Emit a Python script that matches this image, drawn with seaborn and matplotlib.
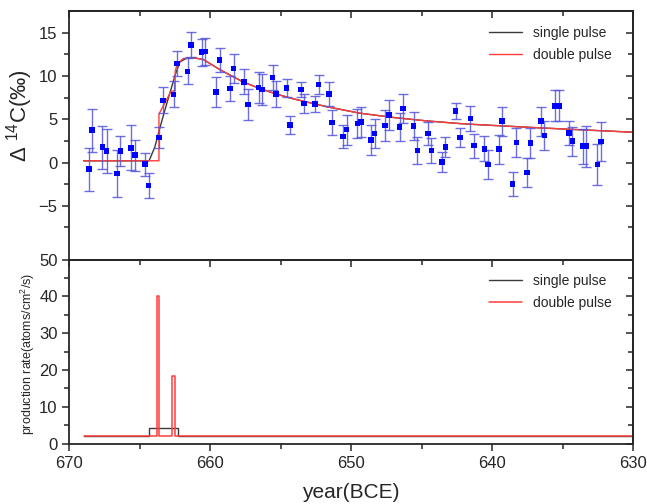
import matplotlib
matplotlib.use('Agg')
import matplotlib.pyplot as plt
import seaborn as sns
from matplotlib.ticker import MultipleLocator, FixedLocator

# measured D14C (per mil) with 1-sigma errors
years = [668.6, 668.4, 667.66, 667.37, 666.62, 666.38, 665.65, 665.36, 664.63, 664.39,
         663.64, 663.37, 662.61, 662.38, 661.62, 661.36, 660.62, 660.37, 659.61, 659.35,
         658.62, 658.35, 657.6, 657.34, 656.58, 656.34, 655.58, 655.33, 654.59, 654.33,
         653.57, 653.34, 652.58, 652.32, 651.58, 651.35, 650.59, 650.33, 649.57, 649.31,
         648.58, 648.34, 647.59, 647.32, 646.56, 646.31, 645.57, 645.31, 644.57, 644.32,
         643.56, 643.32, 642.59, 642.3, 641.55, 641.3, 640.55, 640.29, 639.53, 639.3,
         638.54, 638.28, 637.54, 637.29, 636.55, 636.29, 635.53, 635.27, 634.56, 634.3,
         633.57, 633.31, 632.53, 632.27]
d14c = [-0.77, 3.73, 1.77, 1.34, -1.27, 1.34, 1.69, 0.84, -0.2, -2.66,
        2.89, 7.17, 7.86, 11.44, 10.52, 13.6, 12.75, 12.83, 8.13, 11.86,
        8.55, 10.87, 9.32, 6.7, 8.67, 8.44, 9.82, 7.9, 8.59, 4.35,
        8.44, 6.82, 6.78, 9.01, 7.93, 4.62, 3.0, 3.8, 4.5, 4.66,
        2.61, 3.35, 4.28, 5.47, 4.12, 6.24, 4.2, 1.39, 3.35, 1.39,
        0.03, 1.77, 5.97, 2.89, 5.08, 1.96, 1.58, -0.23, 1.54, 4.77,
        -2.51, 2.31, -1.16, 2.27, 4.77, 3.12, 6.54, 6.54, 3.39, 2.46,
        1.88, 1.88, -0.23, 2.43]
d14c_err = [2.5, 2.5, 2.5, 2.5, 2.7, 1.7, 2.6, 1.8, 1.3, 1.45,
            1.25, 1.5, 1.5, 1.47, 1.5, 1.45, 1.56, 1.6, 1.75, 1.35,
            1.45, 1.7, 1.43, 1.77, 1.8, 1.8, 1.39, 1.46, 1.08, 1.08,
            0.83, 1.06, 0.89, 1.12, 1.4, 1.43, 1.35, 1.73, 1.7, 1.77,
            1.7, 1.68, 1.8, 1.73, 1.64, 1.68, 1.64, 1.6, 1.35, 1.4,
            1.18, 1.12, 0.9, 1.12, 1.43, 1.39, 1.45, 1.71, 1.68, 1.66,
            1.39, 1.68, 1.68, 1.7, 1.66, 1.71, 1.79, 1.79, 1.39, 1.7,
            2.04, 2.35, 2.4, 2.29]

# model curves (rise part differs, decay shared)
single_rise_x = [669.0, 664.35, 663.94, 663.6, 663.23, 662.88, 662.5, 662.17, 661.7]
single_rise_y = [0.2, 0.2, 1.8, 3.9, 6.05, 8.0, 10.1, 11.6, 12.05]
double_rise_x = [669.0, 663.65, 663.65, 662.8, 662.5, 662.5, 662.36, 661.93]
double_rise_y = [0.2, 0.2, 5.6, 8.2, 8.3, 10.5, 11.4, 12.0]
tail_x = [661.2, 660.5, 659.3, 657.67, 656.5, 655.3, 654.1, 651.75, 649.4, 647.0,
          644.6, 642.3, 641.3, 636.6, 630.0]
tail_y = [12.1, 11.9, 10.7, 9.3, 8.55, 7.9, 7.35, 6.45, 5.7, 5.2,
          4.8, 4.5, 4.4, 4.0, 3.5]

# production rate
prod_single_x = [669.0, 664.37, 664.37, 662.3, 662.3, 630.0]
prod_single_y = [2.0, 2.0, 4.2, 4.2, 2.0, 2.0]
prod_double_x = [669.0, 663.82, 663.82, 663.64, 663.64, 662.69, 662.69, 662.5, 662.5, 630.0]
prod_double_y = [2.0, 2.0, 40.0, 40.0, 2.0, 2.0, 18.4, 18.4, 2.0, 2.0]

top_yticks = [-5, 0, 5, 10, 15]
top_yminor = [-7.5, -2.5, 2.5, 7.5, 12.5]

sns.set_style('ticks')
plt.rcParams['font.family'] = ['Liberation Sans', 'DejaVu Sans']
plt.rcParams['mathtext.fontset'] = 'custom'
plt.rcParams['mathtext.rm'] = 'Liberation Sans'
plt.rcParams['axes.linewidth'] = 1.3

black = '#3a3a3a'
red = '#ff3c3c'

fig = plt.figure(figsize=(6.47, 5.04), dpi=100)
ax1 = fig.add_axes([0.1074, 0.4851, 0.8710, 0.4931])
ax2 = fig.add_axes([0.1074, 0.1196, 0.8710, 0.3655])

# top panel
sns.lineplot(x=single_rise_x + tail_x, y=single_rise_y + tail_y, sort=False, estimator=None,
             color=black, lw=1.0, ax=ax1, label='single pulse')
sns.lineplot(x=double_rise_x + tail_x, y=double_rise_y + tail_y, sort=False, estimator=None,
             color=red, lw=1.0, ax=ax1, label='double pulse')
ax1.errorbar(years, d14c, yerr=d14c_err, fmt='none', ecolor='#5555dd', alpha=0.85,
             elinewidth=1.0, capsize=3.5, capthick=1.0, zorder=2)
sns.scatterplot(x=years, y=d14c, marker='s', color='#0000ff', s=16, edgecolor='none',
                ax=ax1, zorder=3, legend=False)

ax1.set_xlim(670, 630)
ax1.set_ylim(-11.2, 17.5)
ax1.yaxis.set_major_locator(FixedLocator(top_yticks))
ax1.yaxis.set_minor_locator(FixedLocator(top_yminor))
ax1.tick_params(axis='y', which='both', direction='out', labelsize=12)
ax1.tick_params(axis='y', which='major', length=5, width=1.1)
ax1.tick_params(axis='y', which='minor', length=3.5, width=1.1)
ax1.tick_params(axis='x', which='both', bottom=False, labelbottom=False)
ax1.set_ylabel('Δ $^{14}$C(‰)', fontsize=16)
ax1.yaxis.set_label_coords(-0.062, 0.58)
ax1.legend(loc='upper right', frameon=False, fontsize=10, handlelength=2.4,
           labelspacing=0.6, bbox_to_anchor=(0.985, 0.99))

# bottom panel
sns.lineplot(x=prod_single_x, y=prod_single_y, sort=False, estimator=None,
             color=black, lw=1.0, ax=ax2, label='single pulse')
sns.lineplot(x=prod_double_x, y=prod_double_y, sort=False, estimator=None,
             color=red, lw=1.1, ax=ax2, label='double pulse')
ax2.set_xlim(670, 630)
ax2.set_ylim(0, 50)
ax2.xaxis.set_major_locator(MultipleLocator(10))
ax2.xaxis.set_minor_locator(MultipleLocator(5))
ax2.yaxis.set_major_locator(MultipleLocator(10))
ax2.yaxis.set_minor_locator(MultipleLocator(5))
ax2.tick_params(which='both', direction='out', labelsize=12)
ax2.tick_params(which='major', length=5, width=1.1)
ax2.tick_params(which='minor', length=3.5, width=1.1)
ax2.set_ylabel('production rate(atoms/cm$^2$/s)', fontsize=9)
ax2.yaxis.set_label_coords(-0.058, 0.49)
ax2.set_xlabel('year(BCE)', fontsize=15, labelpad=9)
ax2.legend(loc='upper right', frameon=False, fontsize=10, handlelength=2.4,
           labelspacing=0.6, bbox_to_anchor=(0.985, 0.99))

# mirrored inward ticks on top and right
for ax, ymaj, ymin in [(ax1, top_yticks, top_yminor), (ax2, None, None)]:
    top = ax.secondary_xaxis('top')
    top.xaxis.set_major_locator(MultipleLocator(10))
    top.xaxis.set_minor_locator(MultipleLocator(5))
    top.tick_params(which='both', direction='in', labeltop=False, width=1.1)
    top.tick_params(which='major', length=5)
    top.tick_params(which='minor', length=3.5)
    right = ax.secondary_yaxis('right')
    if ymaj is None:
        right.yaxis.set_major_locator(MultipleLocator(10))
        right.yaxis.set_minor_locator(MultipleLocator(5))
    else:
        right.yaxis.set_major_locator(FixedLocator(ymaj))
        right.yaxis.set_minor_locator(FixedLocator(ymin))
    right.tick_params(which='both', direction='in', labelright=False, width=1.1)
    right.tick_params(which='major', length=5)
    right.tick_params(which='minor', length=3.5)

fig.savefig('out.png', dpi=100)
